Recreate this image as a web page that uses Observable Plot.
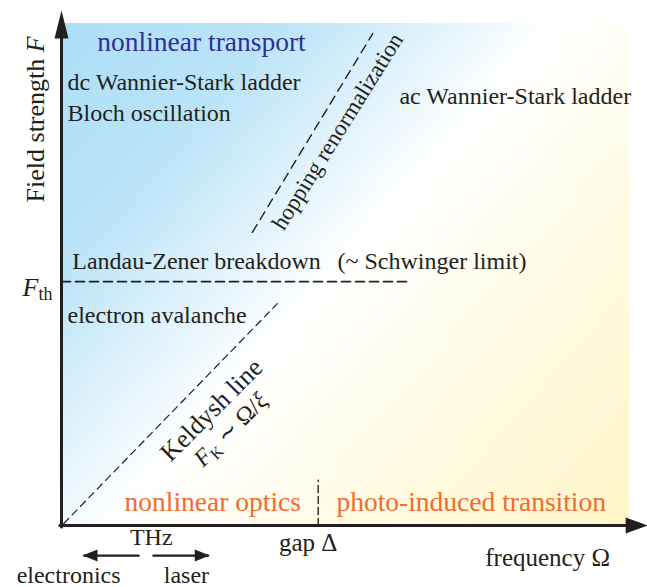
<!DOCTYPE html>
<html>
<head>
<meta charset="utf-8">
<script src="https://cdn.jsdelivr.net/npm/d3@7"></script>
<script src="https://cdn.jsdelivr.net/npm/@observablehq/plot@0.6"></script>
<style>
  html, body { margin: 0; padding: 0; background: #fff; }
</style>
</head>
<body>
<div id="chart"></div>
<script>
// Regimes of a solid driven by a strong field: frequency Ω (x) against
// field strength F (y), both in schematic units.
const omegaDomain = [0, 10];
const fieldDomain = [0, 10];
const omegaAxisEnd = 10.32;
const fieldAxisEnd = 10.26;
const gapDelta = 4.52;   // band gap Δ on the frequency axis
const fieldTh = 4.86;    // threshold field F_th

// boundaries between regimes
const thresholdLine = [{x: 0, y: fieldTh}, {x: 6.16, y: fieldTh}];
const keldyshLine = [{x: 0.04, y: 0.04}, {x: 3.80, y: 4.42}];
const hoppingLine = [{x: 3.36, y: 5.84}, {x: 5.48, y: 9.80}];
const gapLine = [{x: gapDelta, y: 0}, {x: gapDelta, y: 0.9}];

// axes
const fieldAxis = [{x: 0, y: -0.03}, {x: 0, y: fieldAxisEnd - 0.2}];
const omegaAxis = [{x: -0.03, y: 0}, {x: omegaAxisEnd - 0.2, y: 0}];
const fieldTip = [{x: 0, y: fieldAxisEnd}];
const omegaTip = [{x: omegaAxisEnd, y: 0}];

// THz window: electronics from below, lasers from above
const thzBelow = [{x: 1.356, y: -0.6}, {x: 0.40, y: -0.6}];
const thzAbove = [{x: 1.62, y: -0.6}, {x: 2.58, y: -0.6}];
const thzBelowTip = [{x: 0.37, y: -0.6}];
const thzAboveTip = [{x: 2.61, y: -0.6}];

// regime names
const transportTitle = [{text: "nonlinear transport", x: 0.63, y: 9.63}];
const opticsTitles = [
  {text: "nonlinear optics", x: 1.11, y: 0.47},
  {text: "photo-induced transition", x: 4.84, y: 0.47}
];
const regimeNotes = [
  {text: "dc Wannier-Stark ladder", x: 0.106, y: 8.82},
  {text: "Bloch oscillation", x: 0.106, y: 8.22},
  {text: "ac Wannier-Stark ladder", x: 5.95, y: 8.55},
  {text: "Landau-Zener breakdown", x: 0.19, y: 5.27},
  {text: "(~ Schwinger limit)", x: 4.86, y: 5.27},
  {text: "electron avalanche", x: 0.106, y: 4.18}
];
const keldyshLabels = [
  {text: "Keldysh line", x: 2.64, y: 2.30, size: 26},
  {text: "FK ∼ Ω/ξ", x: 2.98, y: 1.91, size: 24}
];
const hoppingLabel = [{text: "hopping renormalization", x: 4.86, y: 7.85}];

// axis annotations
const omegaTitle = [{text: "frequency Ω", x: 7.46, y: -0.64}];
const gapTitle = [{text: "gap Δ", x: gapDelta, y: -0.34}];
const fieldTitle = [{text: "Field strength F", x: -0.463, y: 8.09}];
const thresholdTitle = [{text: "Fth", x: -0.158, y: fieldTh}];
const thzTitles = [{text: "THz", x: 1.58, y: -0.245}];
const thzEnds = [
  {text: "electronics", x: -0.79, y: -1.0},
  {text: "laser", x: 1.80, y: -1.0}
];

const ink = "#231f20";

// filled arrowhead with its tip at the origin, pointing along angleDeg
function arrowHead(angleDeg, widthRatio) {
  const a = angleDeg * Math.PI / 180;
  return {
    draw(context, size) {
      const len = Math.sqrt(size / Math.PI);
      const half = len * widthRatio / 2;
      const ux = Math.cos(a), uy = Math.sin(a);
      const bx = -ux * len, by = -uy * len;
      const px = -uy * half, py = ux * half;
      context.moveTo(0, 0);
      context.lineTo(bx + px, by + py);
      context.lineTo(bx - px, by - py);
      context.closePath();
    }
  };
}

const serif = "'Liberation Serif', 'Times New Roman', Times, serif";
const label = (data, opts) => Plot.text(data, {x: "x", y: "y", text: "text", fontFamily: serif, ...opts});

const svg = Plot.plot({
  width: 647,
  height: 587,
  marginLeft: 61,
  marginRight: 18,
  marginTop: 23,
  marginBottom: 62,
  x: {domain: omegaDomain, axis: null},
  y: {domain: fieldDomain, axis: null},
  style: {fontFamily: serif, background: "#fff", overflow: "visible"},
  marks: [
    Plot.rect([{x1: omegaDomain[0], x2: omegaDomain[1], y1: fieldDomain[0], y2: fieldDomain[1]}],
      {x1: "x1", x2: "x2", y1: "y1", y2: "y2", fill: "url(#fieldShade)"}),

    Plot.line(thresholdLine, {x: "x", y: "y", stroke: ink, strokeWidth: 1.7, strokeDasharray: "9,5"}),
    Plot.line(keldyshLine, {x: "x", y: "y", stroke: ink, strokeWidth: 1.2, strokeDasharray: "7,5"}),
    Plot.line(hoppingLine, {x: "x", y: "y", stroke: ink, strokeWidth: 1.4, strokeDasharray: "9,6"}),
    Plot.line(gapLine, {x: "x", y: "y", stroke: ink, strokeWidth: 1.4, strokeDasharray: "7,4"}),

    Plot.line(fieldAxis, {x: "x", y: "y", stroke: ink, strokeWidth: 3}),
    Plot.line(omegaAxis, {x: "x", y: "y", stroke: ink, strokeWidth: 3}),
    Plot.dot(fieldTip, {x: "x", y: "y", r: 28, symbol: arrowHead(-90, 0.5), fill: ink, stroke: "none"}),
    Plot.dot(omegaTip, {x: "x", y: "y", r: 22, symbol: arrowHead(0, 0.73), fill: ink, stroke: "none"}),

    Plot.line(thzBelow, {x: "x", y: "y", stroke: ink, strokeWidth: 2.4}),
    Plot.line(thzAbove, {x: "x", y: "y", stroke: ink, strokeWidth: 2.4}),
    Plot.dot(thzBelowTip, {x: "x", y: "y", r: 15, symbol: arrowHead(180, 0.8), fill: ink, stroke: "none"}),
    Plot.dot(thzAboveTip, {x: "x", y: "y", r: 15, symbol: arrowHead(0, 0.8), fill: ink, stroke: "none"}),

    label(transportTitle, {fill: "#2e3192", fontSize: 27.5, textAnchor: "start"}),
    label(opticsTitles, {fill: "#f26b2f", fontSize: 27.5, textAnchor: "start"}),
    label(regimeNotes, {fill: ink, fontSize: 24, textAnchor: "start"}),
    label(keldyshLabels, {fill: ink, fontSize: "size", rotate: -45}),
    label(hoppingLabel, {fill: ink, fontSize: 23, rotate: -58}),

    label(omegaTitle, {fill: ink, fontSize: 25, textAnchor: "start"}),
    label(gapTitle, {fill: ink, fontSize: 25, dx: -10}),
    label(fieldTitle, {fill: ink, fontSize: 26, rotate: -90}),
    label(thresholdTitle, {fill: ink, fontSize: 26, textAnchor: "end", dy: 6}),
    label(thzTitles, {fill: ink, fontSize: 24}),
    label(thzEnds, {fill: ink, fontSize: 24, textAnchor: "start"})
  ]
});

// background shading: blue (transport) through white to pale yellow (optics)
const xs = svg.scale("x"), ys = svg.scale("y");
const defs = d3.select(svg).insert("defs", ":first-child");
const grad = defs.append("linearGradient")
  .attr("id", "fieldShade")
  .attr("gradientUnits", "userSpaceOnUse")
  .attr("x1", xs.apply(omegaDomain[0])).attr("y1", ys.apply(fieldDomain[1]))
  .attr("x2", xs.apply(omegaDomain[1])).attr("y2", ys.apply(fieldDomain[0]));
[[0, "#addef7"], [0.22, "#bbe4f8"], [0.49, "#ffffff"], [0.72, "#fffbe4"], [1, "#fff5c8"]]
  .forEach(([o, c]) => grad.append("stop").attr("offset", o).attr("stop-color", c));

// symbols with italics and subscripts
function richText(plain, parts) {
  d3.select(svg).selectAll("text")
    .filter(function () { return this.textContent === plain; })
    .each(function () {
      const t = d3.select(this);
      t.text(null);
      for (const p of parts) {
        const s = t.append("tspan").text(p.text);
        if (p.italic) s.attr("font-style", "italic");
        if (p.size) s.attr("font-size", p.size);
        if (p.dy) s.attr("dy", p.dy);
      }
    });
}
richText("Fth", [{text: "F", italic: true}, {text: "th", size: 18, dy: 4}]);
richText("FK ∼ Ω/ξ", [
  {text: "F", italic: true}, {text: "K", size: 16, dy: 4},
  {text: " ∼ Ω/", dy: -4}, {text: "ξ", italic: true}
]);
richText("Field strength F", [{text: "Field strength "}, {text: "F", italic: true}]);

document.getElementById("chart").appendChild(svg);
</script>
</body>
</html>
